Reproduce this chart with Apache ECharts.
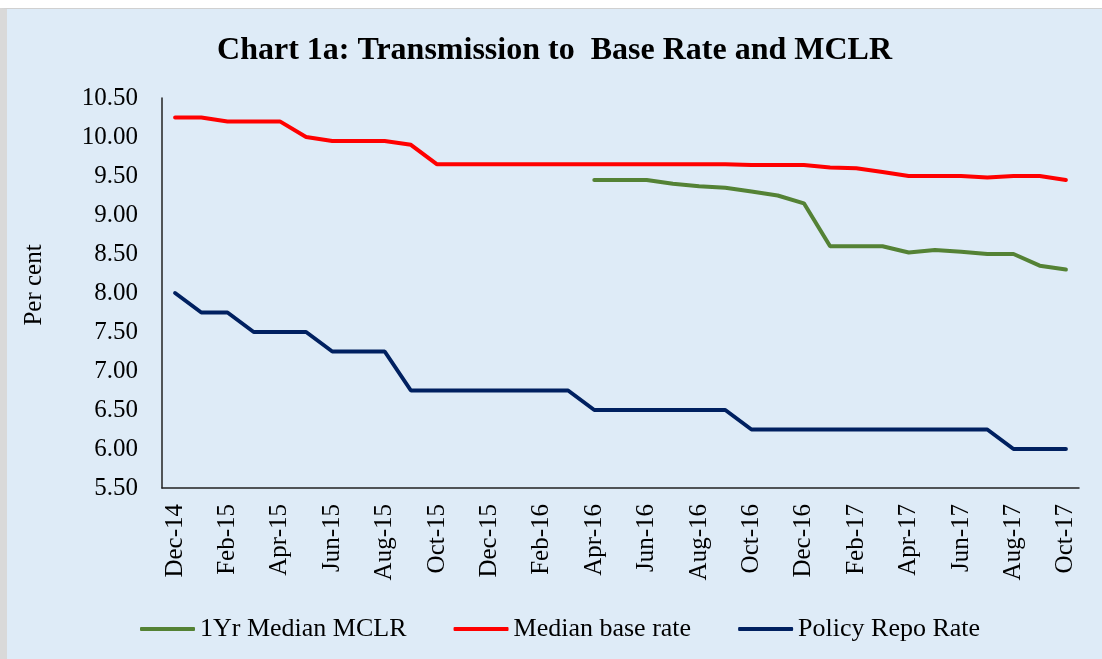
<!DOCTYPE html>
<html>

<head>
    <meta charset="utf-8" />
    <script src="https://cdn.jsdelivr.net/npm/echarts@6/dist/echarts.min.js"></script>
    <title>Chart 1a</title>
    <style>
        body { margin: 0; background: #ffffff; }
        #main-chart {
            position: absolute; left: 0; top: 8px;
            width: 1095px; height: 650px;
            border-left: 7px solid #d9d9d9;
            border-top: 1px solid #d0d0d0;
        }
    </style>
</head>

<body>
    <div id="main-chart"></div>
    <script type="text/javascript">
        var months = ['Dec-14', 'Jan-15', 'Feb-15', 'Mar-15', 'Apr-15', 'May-15', 'Jun-15', 'Jul-15', 'Aug-15',
            'Sep-15', 'Oct-15', 'Nov-15', 'Dec-15', 'Jan-16', 'Feb-16', 'Mar-16', 'Apr-16', 'May-16', 'Jun-16',
            'Jul-16', 'Aug-16', 'Sep-16', 'Oct-16', 'Nov-16', 'Dec-16', 'Jan-17', 'Feb-17', 'Mar-17', 'Apr-17',
            'May-17', 'Jun-17', 'Jul-17', 'Aug-17', 'Sep-17', 'Oct-17'];
        // MCLR only starts in Apr-16
        var mclr = [null, null, null, null, null, null, null, null, null, null, null, null, null, null, null, null,
            9.45, 9.45, 9.45, 9.40, 9.37, 9.35, 9.30, 9.25, 9.15, 8.60, 8.60, 8.60, 8.52, 8.55, 8.53, 8.50, 8.50,
            8.35, 8.30];
        var baseRate = [10.25, 10.25, 10.20, 10.20, 10.20, 10.00, 9.95, 9.95, 9.95, 9.90, 9.65, 9.65, 9.65, 9.65,
            9.65, 9.65, 9.65, 9.65, 9.65, 9.65, 9.65, 9.65, 9.64, 9.64, 9.64, 9.61, 9.60, 9.55, 9.50, 9.50, 9.50,
            9.48, 9.50, 9.50, 9.45];
        var repoRate = [8.00, 7.75, 7.75, 7.50, 7.50, 7.50, 7.25, 7.25, 7.25, 6.75, 6.75, 6.75, 6.75, 6.75, 6.75,
            6.75, 6.50, 6.50, 6.50, 6.50, 6.50, 6.50, 6.25, 6.25, 6.25, 6.25, 6.25, 6.25, 6.25, 6.25, 6.25, 6.25,
            6.00, 6.00, 6.00];

        var font = "'Liberation Serif', 'Times New Roman', serif";

        function makeLine(name, data, color) {
            return {
                name: name,
                type: 'line',
                data: data,
                symbol: 'none',
                connectNulls: false,
                lineStyle: { color: color, width: 4, cap: 'round' },
                itemStyle: { color: color }
            };
        }

        var chart = echarts.init(document.getElementById('main-chart'));
        var option = {
            backgroundColor: '#DEEBF7',
            animation: false,
            title: {
                text: 'Chart 1a: Transmission to  Base Rate and MCLR',
                left: 'center',
                top: 21,
                textStyle: { fontFamily: font, fontWeight: 'bold', fontSize: 32, color: '#000' }
            },
            legend: {
                left: 133,
                top: 607,
                padding: 0,
                icon: 'roundRect',
                itemWidth: 55,
                itemHeight: 4,
                itemGap: 47,
                textStyle: { fontFamily: font, fontSize: 26, color: '#000' },
                data: ['1Yr Median MCLR', 'Median base rate', 'Policy Repo Rate']
            },
            grid: { left: 155, right: 23, top: 89, bottom: 171 },
            xAxis: {
                type: 'category',
                data: months,
                boundaryGap: true,
                axisLine: { lineStyle: { color: '#222', width: 1.5 } },
                axisTick: { show: false },
                axisLabel: {
                    interval: 1,
                    rotate: 90,
                    margin: 16,
                    fontFamily: font,
                    fontSize: 25,
                    color: '#000'
                }
            },
            yAxis: {
                type: 'value',
                min: 5.5,
                max: 10.5,
                interval: 0.5,
                name: 'Per cent',
                nameLocation: 'middle',
                nameGap: 115,
                nameRotate: 90,
                nameTextStyle: { fontFamily: font, fontSize: 25, color: '#000', padding: [0, 0, 0, 16] },
                axisLine: { show: true, lineStyle: { color: '#222', width: 1.5 } },
                axisTick: { show: false },
                splitLine: { show: false },
                axisLabel: {
                    margin: 24,
                    fontFamily: font,
                    fontSize: 25,
                    color: '#000',
                    formatter: function (v) { return v.toFixed(2); }
                }
            },
            series: [
                makeLine('1Yr Median MCLR', mclr, '#548235'),
                makeLine('Median base rate', baseRate, '#FF0000'),
                makeLine('Policy Repo Rate', repoRate, '#002060')
            ]
        };
        chart.setOption(option);
    </script>
</body>

</html>
